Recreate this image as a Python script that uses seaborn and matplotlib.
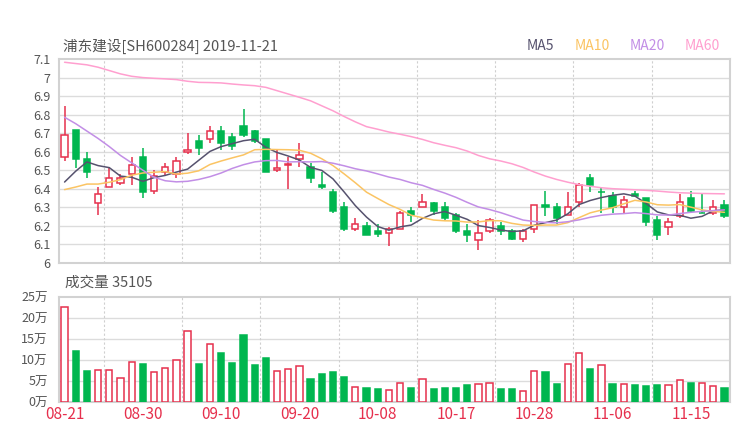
import matplotlib
matplotlib.use('Agg')
import matplotlib.pyplot as plt
import seaborn as sns
import numpy as np

# trading days shown on the chart
dates = ['08-21', '08-22', '08-23', '08-26', '08-27', '08-28', '08-29', '08-30',
         '09-02', '09-03', '09-04', '09-05', '09-06', '09-09', '09-10', '09-11',
         '09-12', '09-16', '09-17', '09-18', '09-19', '09-20', '09-23', '09-24',
         '09-25', '09-26', '09-27', '09-30', '10-08', '10-09', '10-10', '10-11',
         '10-14', '10-15', '10-16', '10-17', '10-18', '10-21', '10-22', '10-23',
         '10-24', '10-25', '10-28', '10-29', '10-30', '10-31', '11-01', '11-04',
         '11-05', '11-06', '11-07', '11-08', '11-11', '11-12', '11-13', '11-14',
         '11-15', '11-18', '11-19', '11-20']

opens = [6.57, 6.72, 6.56, 6.32, 6.41, 6.43, 6.48, 6.57, 6.39, 6.49,
         6.48, 6.60, 6.66, 6.67, 6.71, 6.68, 6.74, 6.71, 6.67, 6.50,
         6.53, 6.56, 6.52, 6.42, 6.38, 6.30, 6.18, 6.20, 6.17, 6.16,
         6.18, 6.28, 6.30, 6.32, 6.30, 6.26, 6.17, 6.12, 6.17, 6.20,
         6.17, 6.13, 6.18, 6.31, 6.30, 6.26, 6.33, 6.46, 6.38, 6.36,
         6.30, 6.37, 6.35, 6.23, 6.19, 6.25, 6.35, 6.27, 6.27, 6.31]
highs = [6.85, 6.72, 6.60, 6.41, 6.52, 6.48, 6.57, 6.62, 6.50, 6.54,
         6.57, 6.70, 6.69, 6.74, 6.74, 6.70, 6.83, 6.72, 6.67, 6.61,
         6.57, 6.65, 6.54, 6.49, 6.40, 6.33, 6.24, 6.22, 6.21, 6.19,
         6.28, 6.30, 6.37, 6.33, 6.33, 6.27, 6.21, 6.23, 6.24, 6.22,
         6.18, 6.18, 6.31, 6.39, 6.32, 6.38, 6.43, 6.48, 6.41, 6.38,
         6.36, 6.39, 6.35, 6.25, 6.24, 6.37, 6.39, 6.37, 6.34, 6.34]
lows = [6.55, 6.51, 6.46, 6.26, 6.41, 6.42, 6.42, 6.35, 6.37, 6.47,
        6.46, 6.59, 6.58, 6.65, 6.61, 6.61, 6.68, 6.65, 6.49, 6.49,
        6.40, 6.52, 6.43, 6.40, 6.27, 6.17, 6.17, 6.15, 6.14, 6.09,
        6.18, 6.22, 6.30, 6.26, 6.23, 6.16, 6.11, 6.07, 6.16, 6.15,
        6.12, 6.11, 6.16, 6.25, 6.21, 6.26, 6.30, 6.38, 6.27, 6.27,
        6.27, 6.36, 6.20, 6.12, 6.15, 6.24, 6.27, 6.27, 6.26, 6.24]
closes = [6.69, 6.56, 6.49, 6.37, 6.46, 6.46, 6.53, 6.38, 6.47, 6.52,
          6.55, 6.61, 6.62, 6.71, 6.65, 6.63, 6.69, 6.66, 6.49, 6.51,
          6.535, 6.58, 6.46, 6.41, 6.28, 6.18, 6.21, 6.15, 6.155, 6.18,
          6.27, 6.26, 6.33, 6.28, 6.24, 6.17, 6.15, 6.16, 6.23, 6.17,
          6.13, 6.17, 6.31, 6.30, 6.24, 6.30, 6.42, 6.42, 6.38, 6.30,
          6.34, 6.36, 6.22, 6.15, 6.22, 6.33, 6.28, 6.27, 6.30, 6.25]

ma5 = [6.436, 6.495, 6.545, 6.525, 6.514, 6.468, 6.462, 6.44, 6.46, 6.472,
       6.49, 6.506, 6.554, 6.602, 6.628, 6.644, 6.66, 6.668, 6.624, 6.596,
       6.577, 6.555, 6.515, 6.499, 6.453, 6.382, 6.308, 6.246, 6.195, 6.175,
       6.193, 6.203, 6.239, 6.264, 6.276, 6.256, 6.234, 6.20, 6.19, 6.176,
       6.168, 6.172, 6.202, 6.216, 6.23, 6.264, 6.314, 6.336, 6.352, 6.364,
       6.372, 6.36, 6.32, 6.274, 6.258, 6.256, 6.24, 6.25, 6.28, 6.286]
ma10 = [6.395, 6.409, 6.425, 6.425, 6.435, 6.449, 6.473, 6.485, 6.489, 6.493,
        6.479, 6.484, 6.497, 6.531, 6.55, 6.567, 6.583, 6.611, 6.613, 6.612,
        6.611, 6.608, 6.592, 6.562, 6.525, 6.48, 6.432, 6.381, 6.347, 6.314,
        6.288, 6.256, 6.243, 6.23, 6.226, 6.225, 6.219, 6.22, 6.227, 6.226,
        6.212, 6.203, 6.201, 6.203, 6.203, 6.216, 6.243, 6.269, 6.284, 6.297,
        6.318, 6.337, 6.328, 6.313, 6.311, 6.314, 6.30, 6.285, 6.277, 6.272]
ma20 = [6.787, 6.752, 6.712, 6.672, 6.628, 6.58, 6.54, 6.50, 6.462, 6.443,
        6.437, 6.44, 6.45, 6.465, 6.485, 6.51, 6.53, 6.545, 6.552, 6.553,
        6.545, 6.546, 6.545, 6.547, 6.538, 6.524, 6.508, 6.496, 6.48, 6.463,
        6.45, 6.432, 6.418, 6.396, 6.376, 6.353, 6.326, 6.301, 6.287, 6.27,
        6.25, 6.23, 6.222, 6.217, 6.215, 6.221, 6.231, 6.245, 6.256, 6.262,
        6.265, 6.27, 6.265, 6.258, 6.257, 6.265, 6.272, 6.277, 6.281, 6.285]
ma60 = [7.085, 7.078, 7.071, 7.058, 7.04, 7.022, 7.009, 7.002, 6.998, 6.995,
        6.991, 6.982, 6.976, 6.975, 6.973, 6.967, 6.962, 6.958, 6.949, 6.931,
        6.913, 6.895, 6.876, 6.849, 6.822, 6.791, 6.762, 6.736, 6.722, 6.707,
        6.695, 6.682, 6.667, 6.649, 6.635, 6.622, 6.604, 6.58, 6.562, 6.55,
        6.535, 6.515, 6.49, 6.468, 6.45, 6.435, 6.422, 6.413, 6.405, 6.40,
        6.397, 6.394, 6.391, 6.387, 6.382, 6.378, 6.376, 6.374, 6.373, 6.372]

# volume in 万手
volumes = [22.6, 12.3, 7.4, 7.6, 7.8, 5.7, 9.5, 9.0, 7.1, 8.1,
           10.1, 16.9, 9.1, 14.0, 11.8, 9.4, 16.1, 8.8, 10.5, 7.4,
           8.0, 8.6, 5.6, 6.8, 7.1, 6.0, 3.6, 3.3, 3.1, 2.9,
           4.5, 3.5, 5.6, 3.1, 3.5, 3.3, 4.0, 4.4, 4.5, 3.2,
           3.2, 2.7, 7.5, 7.2, 4.4, 9.2, 11.7, 7.9, 8.9, 4.3,
           4.4, 4.2, 3.8, 4.0, 4.2, 5.4, 4.7, 4.7, 3.8, 3.5105]

price_ticks = [6.0, 6.1, 6.2, 6.3, 6.4, 6.5, 6.6, 6.7, 6.8, 6.9, 7.0, 7.1]
vol_ticks = [0, 5, 10, 15, 20, 25]

RED = '#e6304d'
GREEN = '#00b64f'
GRID = '#dcdcdc'
FRAME = '#d2d2d2'
TXT = '#555555'
ma_colors = {'MA5': '#56526e', 'MA10': '#fbc463', 'MA20': '#c28ee6', 'MA60': '#ff9fcf'}

sns.set_style('white')
plt.rcParams['font.family'] = ['Noto Sans CJK SC', 'DejaVu Sans']

fig = plt.figure(figsize=(7.4, 4.4), dpi=100)
ax = fig.add_axes([0.0797, 0.4034, 0.9068, 0.4614])
axv = fig.add_axes([0.0797, 0.0857, 0.9068, 0.2386])

idx = np.arange(len(dates))
o = np.array(opens)
c = np.array(closes)
h = np.array(highs)
l = np.array(lows)
up = c > o
w = 0.56

# wicks
ax.vlines(idx, l, h, colors=[RED if u else GREEN for u in up], lw=1.1, zorder=3)
# bodies
bottoms = np.minimum(o, c)
heights = np.abs(c - o)
ax.bar(idx, heights, bottom=bottoms, width=w,
       color=['white' if u else GREEN for u in up],
       edgecolor=[RED if u else GREEN for u in up], linewidth=1.1, zorder=4)

for name, vals in [('MA5', ma5), ('MA10', ma10), ('MA20', ma20), ('MA60', ma60)]:
    sns.lineplot(x=idx, y=vals, ax=ax, color=ma_colors[name], lw=1.1, zorder=5)

vup = c >= o
axv.bar(idx, volumes, width=w,
        color=['white' if u else GREEN for u in vup],
        edgecolor=[RED if u else GREEN for u in vup], linewidth=1.1, zorder=3)

for a in (ax, axv):
    a.set_xlim(-0.5, len(dates) - 0.5)
    for p in range(3, len(dates) - 4, 7):
        a.axvline(p + 0.5, color='#cfcfcf', lw=0.8, ls=(0, (2, 2)), zorder=1)
    for s in a.spines.values():
        s.set_color(FRAME)
        s.set_linewidth(1.5)
    a.tick_params(length=0, labelsize=9, labelcolor=TXT)

ax.set_ylim(6.0, 7.1)
ax.set_yticks(price_ticks)
ax.set_yticklabels(['{:g}'.format(v) for v in price_ticks])
for v in price_ticks[1:-1]:
    ax.axhline(v, color=GRID, lw=1, zorder=0)
ax.set_xticks([])
ax.tick_params(axis='y', pad=6)

axv.set_ylim(0, 25)
axv.set_yticks(vol_ticks)
axv.set_yticklabels(['{}万'.format(v) for v in vol_ticks])
for v in vol_ticks[1:-1]:
    axv.axhline(v, color=GRID, lw=1, zorder=0)
axv.set_xticks(idx[::7])
axv.set_xticklabels([dates[i] for i in idx[::7]])
axv.tick_params(axis='x', labelsize=11, labelcolor=RED, pad=3)
axv.tick_params(axis='y', pad=8)

fig.text(63 / 740, 1 - 46 / 440, '浦东建设[SH600284] 2019-11-21', fontsize=10.5,
         color=TXT, va='center', ha='left')
fig.text(65 / 740, 1 - 283 / 440, '成交量 {}'.format(int(round(volumes[-1] * 10000))),
         fontsize=10.5, color=TXT, va='center', ha='left')
for name, x0 in [('MA5', 527), ('MA10', 575), ('MA20', 630), ('MA60', 685)]:
    fig.text(x0 / 740, 1 - 46 / 440, name, fontsize=10, color=ma_colors[name],
             va='center', ha='left')

fig.savefig('out.png', dpi=100)
